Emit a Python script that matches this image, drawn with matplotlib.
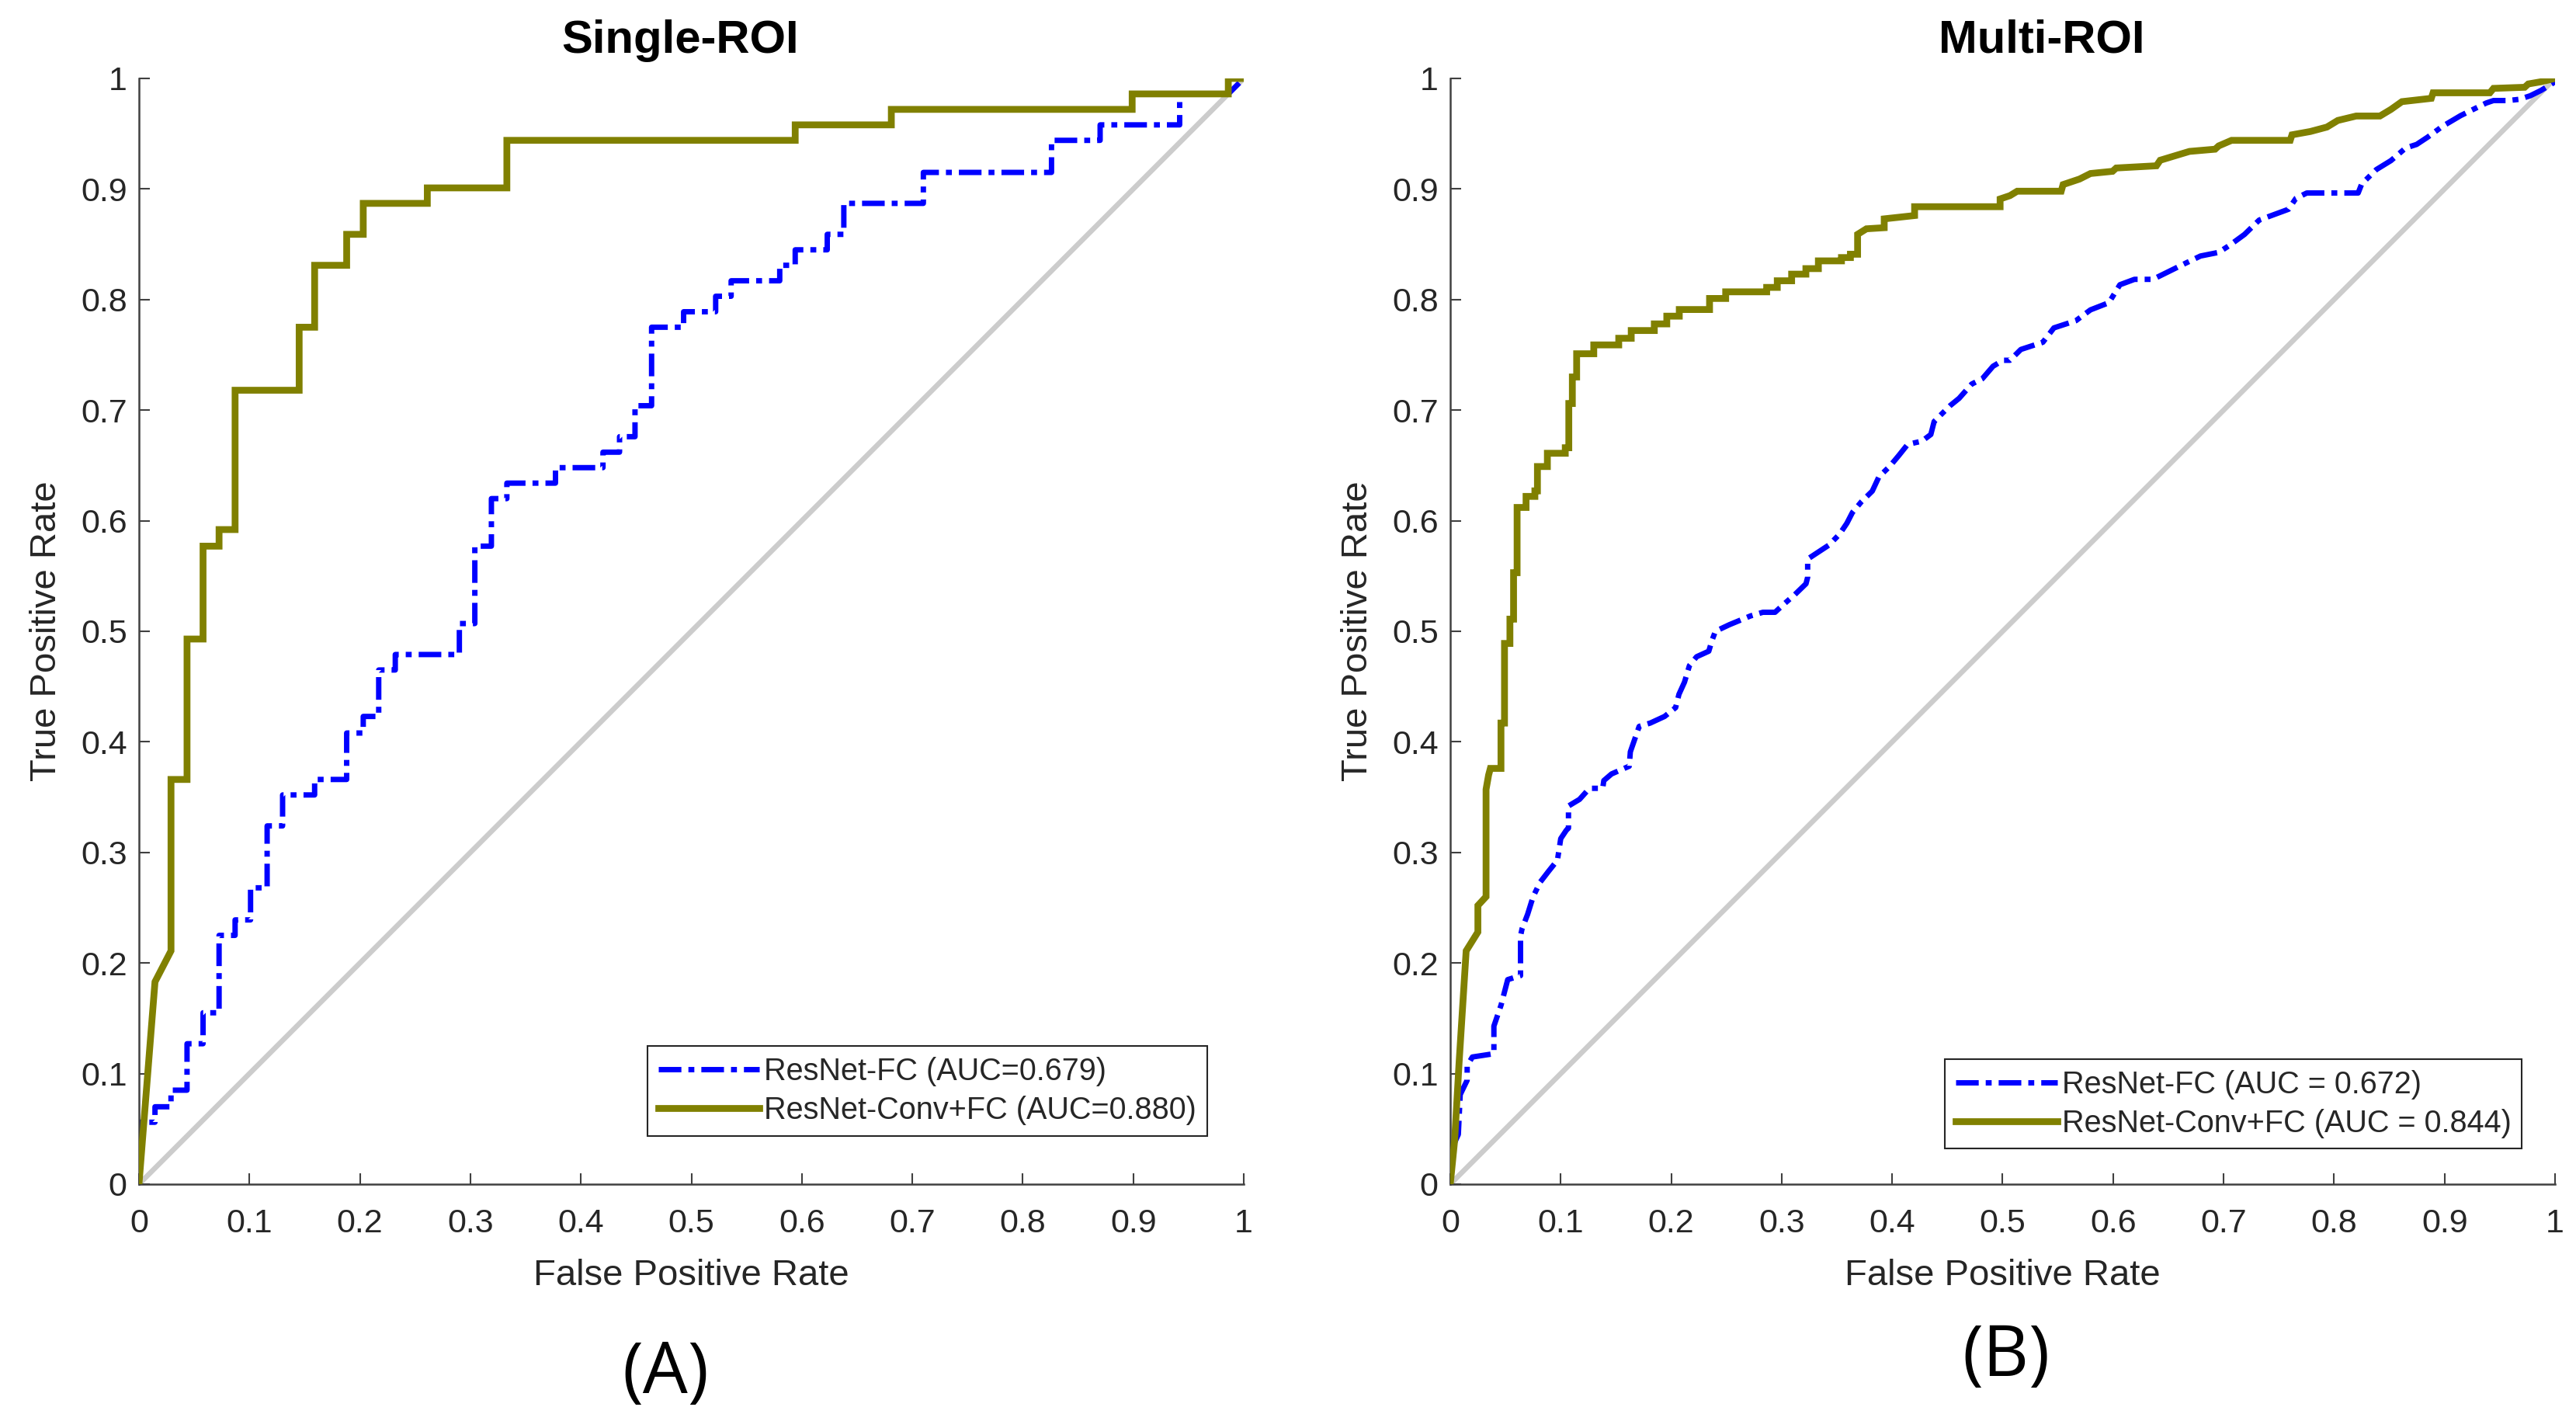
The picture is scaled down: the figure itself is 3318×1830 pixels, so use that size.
import numpy as np
import matplotlib
matplotlib.use("Agg")
import matplotlib.pyplot as plt

plt.rcParams['font.family'] = ['Liberation Sans', 'DejaVu Sans']

# ---- data ----
tick_values = [0, 0.1, 0.2, 0.3, 0.4, 0.5, 0.6, 0.7, 0.8, 0.9, 1]
tick_labels = ['0', '0.1', '0.2', '0.3', '0.4', '0.5', '0.6', '0.7', '0.8', '0.9', '1']

titles = ['Single-ROI', 'Multi-ROI']
panel_tags = ['(A)', '(B)']
legend_single = ['ResNet-FC (AUC=0.679)', 'ResNet-Conv+FC (AUC=0.880)']
legend_multi = ['ResNet-FC (AUC = 0.672)', 'ResNet-Conv+FC (AUC = 0.844)']

# Single-ROI, ResNet-FC (staircase corners)
single_fc_fpr = [0, 0, 0.0145, 0.0145, 0.029, 0.029, 0.0435, 0.0435, 0.058, 0.058,
                 0.0725, 0.0725, 0.087, 0.087, 0.101, 0.101, 0.116, 0.116, 0.130, 0.130,
                 0.159, 0.159, 0.188, 0.188, 0.203, 0.203, 0.217, 0.217, 0.232, 0.232,
                 0.290, 0.290, 0.304, 0.304, 0.319, 0.319, 0.333, 0.333, 0.377, 0.377,
                 0.420, 0.420, 0.435, 0.435, 0.449, 0.449, 0.464, 0.464, 0.493, 0.493,
                 0.522, 0.522, 0.536, 0.536, 0.580, 0.580, 0.594, 0.594, 0.623, 0.623,
                 0.638, 0.638, 0.710, 0.710, 0.826, 0.826, 0.870, 0.870, 0.942, 0.942,
                 0.986, 1.0]
single_fc_tpr = [0, 0.056, 0.056, 0.070, 0.070, 0.085, 0.085, 0.127, 0.127, 0.155,
                 0.155, 0.225, 0.225, 0.239, 0.239, 0.268, 0.268, 0.324, 0.324, 0.352,
                 0.352, 0.366, 0.366, 0.408, 0.408, 0.423, 0.423, 0.465, 0.465, 0.479,
                 0.479, 0.507, 0.507, 0.577, 0.577, 0.620, 0.620, 0.634, 0.634, 0.648,
                 0.648, 0.662, 0.662, 0.676, 0.676, 0.704, 0.704, 0.775, 0.775, 0.789,
                 0.789, 0.803, 0.803, 0.817, 0.817, 0.831, 0.831, 0.845, 0.845, 0.859,
                 0.859, 0.887, 0.887, 0.915, 0.915, 0.944, 0.944, 0.958, 0.958, 0.986,
                 0.986, 1.0]

# Single-ROI, ResNet-Conv+FC
single_conv_fpr = [0, 0.0145, 0.029, 0.029, 0.0435, 0.0435, 0.058, 0.058, 0.0725, 0.0725,
                   0.087, 0.087, 0.145, 0.145, 0.159, 0.159, 0.188, 0.188, 0.203, 0.203,
                   0.261, 0.261, 0.333, 0.333, 0.594, 0.594, 0.681, 0.681, 0.899, 0.899,
                   0.986, 0.986, 1.0]
single_conv_tpr = [0, 0.183, 0.211, 0.366, 0.366, 0.493, 0.493, 0.577, 0.577, 0.592,
                   0.592, 0.718, 0.718, 0.775, 0.775, 0.831, 0.831, 0.859, 0.859, 0.887,
                   0.887, 0.901, 0.901, 0.944, 0.944, 0.958, 0.958, 0.972, 0.972, 0.986,
                   0.986, 1.0, 1.0]

# Multi-ROI, ResNet-FC
multi_fc_fpr = [0, 0, 0.0073, 0.009, 0.0153, 0.0153, 0.020, 0.0395, 0.0395, 0.046,
                0.052, 0.0636, 0.0636, 0.065, 0.070, 0.075, 0.0813, 0.089, 0.097, 0.100,
                0.105, 0.107, 0.107, 0.117, 0.126, 0.138, 0.139, 0.146, 0.162, 0.163,
                0.171, 0.181, 0.194, 0.204, 0.207, 0.212, 0.2165, 0.223, 0.234, 0.237,
                0.240, 0.2525, 0.2718, 0.283, 0.294, 0.3009, 0.312, 0.322, 0.3235, 0.3235,
                0.3332, 0.3428, 0.3525, 0.359, 0.364, 0.372, 0.382, 0.388, 0.398, 0.406,
                0.414, 0.427, 0.435, 0.438, 0.4461, 0.4526, 0.4606, 0.472, 0.4816, 0.4913,
                0.5003, 0.5066, 0.5165, 0.5364, 0.5464, 0.5663, 0.5795, 0.5962, 0.6061, 0.6193,
                0.636, 0.6492, 0.6658, 0.6791, 0.6956, 0.7056, 0.7189, 0.7322, 0.7455, 0.7588,
                0.7654, 0.7753, 0.8218, 0.825, 0.8383, 0.8515, 0.8648, 0.8747, 0.8847, 0.898,
                0.9146, 0.9278, 0.9378, 0.9443, 0.9576, 0.9675, 0.9775, 0.9874, 0.999, 1.0]
multi_fc_tpr = [0, 0.029, 0.045, 0.081, 0.094, 0.107, 0.115, 0.118, 0.143, 0.162,
                0.185, 0.1886, 0.2245, 0.231, 0.244, 0.260, 0.273, 0.283, 0.293, 0.3125,
                0.320, 0.322, 0.342, 0.348, 0.358, 0.358, 0.365, 0.371, 0.378, 0.391,
                0.414, 0.417, 0.423, 0.431, 0.443, 0.454, 0.469, 0.477, 0.482, 0.492,
                0.500, 0.5059, 0.5139, 0.5172, 0.5172, 0.5236, 0.5333, 0.543, 0.5489, 0.5653,
                0.5717, 0.578, 0.588, 0.5977, 0.6074, 0.617, 0.6268, 0.6397, 0.6494, 0.659,
                0.669, 0.672, 0.678, 0.6897, 0.6978, 0.7042, 0.7107, 0.7236, 0.7284, 0.7397,
                0.7451, 0.7451, 0.7549, 0.7614, 0.7744, 0.7809, 0.7907, 0.7972, 0.8134, 0.8183,
                0.8183, 0.8248, 0.833, 0.8394, 0.8427, 0.8492, 0.8589, 0.8719, 0.8768, 0.8817,
                0.8915, 0.8964, 0.8964, 0.9046, 0.9176, 0.9257, 0.9371, 0.9403, 0.9469, 0.9566,
                0.9664, 0.9729, 0.9778, 0.98, 0.98, 0.9811, 0.9843, 0.9892, 0.9963, 1.0]

# Multi-ROI, ResNet-Conv+FC
multi_conv_fpr = [0, 0.004, 0.008, 0.0144, 0.025, 0.025, 0.0324, 0.0324, 0.0347, 0.0363,
                  0.0459, 0.0459, 0.0491, 0.0491, 0.054, 0.054, 0.0573, 0.0573, 0.0605, 0.0605,
                  0.0686, 0.0686, 0.0766, 0.0766, 0.0789, 0.0789, 0.0879, 0.0879, 0.1041, 0.1041,
                  0.1073, 0.1073, 0.1105, 0.1105, 0.1144, 0.1144, 0.1299, 0.1299, 0.1525, 0.1525,
                  0.1638, 0.1638, 0.1847, 0.1847, 0.196, 0.196, 0.2073, 0.2073, 0.2347, 0.2347,
                  0.2493, 0.2493, 0.2864, 0.2864, 0.296, 0.296, 0.309, 0.309, 0.3219, 0.3219,
                  0.3332, 0.3332, 0.3541, 0.3541, 0.3622, 0.3622, 0.3687, 0.3687, 0.3767, 0.3928,
                  0.3928, 0.4203, 0.4203, 0.4977, 0.4977, 0.5066, 0.5132, 0.553, 0.5547, 0.5696,
                  0.5795, 0.5995, 0.6028, 0.6392, 0.6426, 0.6525, 0.6691, 0.6923, 0.6956, 0.7072,
                  0.7603, 0.7619, 0.7785, 0.7935, 0.8034, 0.82, 0.8415, 0.8515, 0.8614, 0.888,
                  0.8896, 0.941, 0.9443, 0.9725, 0.9758, 0.9874, 1.0]
multi_conv_tpr = [0, 0.04, 0.11, 0.211, 0.228, 0.252, 0.260, 0.357, 0.370, 0.376,
                  0.376, 0.417, 0.417, 0.489, 0.489, 0.511, 0.511, 0.553, 0.553, 0.612,
                  0.612, 0.622, 0.622, 0.627, 0.627, 0.649, 0.649, 0.661, 0.661, 0.666,
                  0.666, 0.706, 0.706, 0.730, 0.730, 0.751, 0.751, 0.759, 0.759, 0.765,
                  0.765, 0.772, 0.772, 0.778, 0.778, 0.785, 0.785, 0.791, 0.791, 0.801,
                  0.801, 0.807, 0.807, 0.811, 0.811, 0.817, 0.817, 0.823, 0.823, 0.828,
                  0.828, 0.835, 0.835, 0.838, 0.838, 0.841, 0.841, 0.859, 0.864, 0.865,
                  0.873, 0.876, 0.884, 0.884, 0.891, 0.894, 0.898, 0.898, 0.904, 0.909,
                  0.914, 0.916, 0.919, 0.921, 0.926, 0.929, 0.934, 0.936, 0.939, 0.944,
                  0.944, 0.949, 0.952, 0.956, 0.962, 0.966, 0.966, 0.972, 0.979, 0.982,
                  0.987, 0.987, 0.991, 0.992, 0.995, 0.997, 1.0]

chance = [0, 1]

# ---- styling ----
blue = '#0000FF'
olive = '#808000'
gray = '#CCCCCC'
axis_color = '#404040'
text_color = '#262626'

fig = plt.figure(figsize=(33.18, 18.30), dpi=100)

ax_w = 1423 / 3318
ax_h = 1424 / 1830
ax_b = (1830 - 1525) / 1830
ax_left = fig.add_axes([179 / 3318, ax_b, ax_w, ax_h])
ax_right = fig.add_axes([1868 / 3318, ax_b, ax_w, ax_h])


def draw_panel(ax, fc_fpr, fc_tpr, conv_fpr, conv_tpr, title, title_x, labels, anchor):
    ax.plot(chance, chance, color=gray, lw=4.8, zorder=1)
    l1, = ax.plot(fc_fpr, fc_tpr, color=blue, lw=5.0, zorder=2)
    l1.set_dashes([4.2, 1.3, 1.1, 1.3])
    l2, = ax.plot(conv_fpr, conv_tpr, color=olive, lw=6.3, zorder=3,
                  solid_joinstyle='miter')

    ax.set_xlim(0, 1)
    ax.set_ylim(0, 1)
    ax.set_xticks(tick_values)
    ax.set_yticks(tick_values)
    ax.set_xticklabels(tick_labels)
    ax.set_yticklabels(tick_labels)
    for side in ['top', 'right']:
        ax.spines[side].set_visible(False)
    for side in ['left', 'bottom']:
        ax.spines[side].set_color(axis_color)
        ax.spines[side].set_linewidth(1.8)
    ax.tick_params(axis='both', direction='in', length=10, width=1.5,
                   color=axis_color, labelcolor=text_color, labelsize=31)
    ax.tick_params(axis='x', pad=22)
    ax.tick_params(axis='y', pad=11)

    ax.set_xlabel('False Positive Rate', fontsize=34, color=text_color, labelpad=18)
    ax.set_ylabel('True Positive Rate', fontsize=34, color=text_color, labelpad=16)
    ax.set_title(title, fontsize=43, fontweight='bold', color='black', pad=24,
                 x=title_x)

    leg = ax.legend([l1, l2], labels, loc='lower right', bbox_to_anchor=anchor,
                    borderaxespad=0, fontsize=28.5, handlelength=3.3,
                    handletextpad=0.15, borderpad=0.35, labelspacing=0.3,
                    fancybox=False, framealpha=1)
    leg.get_frame().set_edgecolor(text_color)
    leg.get_frame().set_linewidth(1.5)
    for t in leg.get_texts():
        t.set_color(text_color)


draw_panel(ax_left, single_fc_fpr, single_fc_tpr, single_conv_fpr, single_conv_tpr,
           titles[0], 0.49, legend_single, (0.967, 0.0435))
draw_panel(ax_right, multi_fc_fpr, multi_fc_tpr, multi_conv_fpr, multi_conv_tpr,
           titles[1], 0.535, legend_multi, (0.970, 0.032))

fig.text(857 / 3318, 1 - 1770 / 1830, panel_tags[0], fontsize=66, ha='center',
         va='center', family=['Open Sans', 'DejaVu Sans'], color='black')
fig.text(2584 / 3318, 1 - 1748 / 1830, panel_tags[1], fontsize=66, ha='center',
         va='center', family=['Open Sans', 'DejaVu Sans'], color='black')

fig.savefig('out.png', dpi=100)
plt.close(fig)
